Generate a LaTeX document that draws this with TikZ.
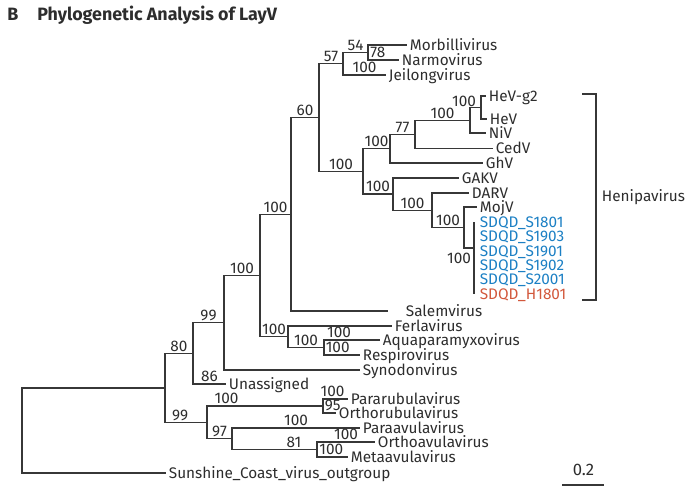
\documentclass[tikz,border=0pt]{standalone}
\usepackage{fontspec}
\setmainfont{Fira Sans}
\definecolor{treeink}{RGB}{55,55,55}
\definecolor{textink}{RGB}{45,45,45}
\definecolor{sdqdblue}{RGB}{28,128,196}
\definecolor{sdqdred}{RGB}{210,88,60}

\begin{document}
\begin{tikzpicture}[x=0.75pt, y=-0.75pt,
      branch/.style={draw=treeink, line width=1.1pt},
      leaf/.style={anchor=west, inner xsep=2pt, inner ysep=0pt, text height=7.9pt, text depth=0pt, font=\fontsize{11.5}{13}\selectfont, text=textink},
      sdqd/.style={leaf, inner xsep=4.2pt, text=sdqdblue},
      boot/.style={anchor=south, inner sep=1.1pt, text height=7.9pt, text depth=0pt, font=\fontsize{11.5}{13}\selectfont, text=textink},
      heading/.style={anchor=base west, inner sep=0pt, font=\bfseries\fontsize{13.4}{15}\selectfont, text=textink}
    ]
      \useasboundingbox (0,0) rectangle (692,495);

      % Title
      \node[heading] (panel) at (7,20.7) {B};
      \node[heading] (title) at (37,20.7) {Phylogenetic Analysis of LayV};

      % Taxa
      \node[leaf] (morbilli) at (407,45) {Morbillivirus};
      \node[leaf] (narmo) at (399,60) {Narmovirus};
      \node[leaf] (jeilong) at (386,75) {Jeilongvirus};
      \node[leaf] (hevgtwo) at (486,96) {HeV-g2};
      \node[leaf] (hev) at (487,119) {HeV};
      \node[leaf] (niv) at (486,133) {NiV};
      \node[leaf] (cedv) at (493,148.5) {CedV};
      \node[leaf] (ghv) at (483,163) {GhV};
      \node[leaf] (gakv) at (459,178) {GAKV};
      \node[leaf] (darv) at (469,193) {DARV};
      \node[leaf] (mojv) at (477,207) {MojV};
      \node[sdqd] (sdqdA) at (474,222) {SDQD\_S1801};
      \node[sdqd] (sdqdB) at (474,236.4) {SDQD\_S1903};
      \node[sdqd] (sdqdC) at (474,250.8) {SDQD\_S1901};
      \node[sdqd] (sdqdD) at (474,265.2) {SDQD\_S1902};
      \node[sdqd] (sdqdE) at (474,279.6) {SDQD\_S2001};
      \node[sdqd, text=sdqdred] (sdqdF) at (474,294) {SDQD\_H1801};
      \coordinate (salemEnd) at (388,311);
      \node[leaf] (salem) at (403,311) {Salemvirus};
      \node[leaf] (ferla) at (392,326) {Ferlavirus};
      \node[leaf] (aqua) at (380,340) {Aquaparamyxovirus};
      \node[leaf] (respiro) at (360,355) {Respirovirus};
      \node[leaf] (synodon) at (360,370) {Synodonvirus};
      \node[leaf] (unassigned) at (226,384) {Unassigned};
      \node[leaf] (pararub) at (348,399) {Pararubulavirus};
      \node[leaf] (orthorub) at (336,413) {Orthorubulavirus};
      \node[leaf] (paraavula) at (360,428) {Paraavulavirus};
      \node[leaf] (orthoavula) at (375,442) {Orthoavulavirus};
      \node[leaf] (metaavula) at (348,457) {Metaavulavirus};
      \node[leaf] (outgroup) at (166,473) {Sunshine\_Coast\_virus\_outgroup};

      % Internal nodes
      \coordinate (nRoot) at (22,430.5);
      \coordinate (nCore) at (165,387.9);
      \coordinate (nUpper) at (193,353.4);
      \coordinate (nMid) at (224,322.75);
      \coordinate (nDeep) at (260,275.5);
      \coordinate (nSalem) at (291,214.3);
      \coordinate (nHigh) at (319,117.6);
      \coordinate (nMorb) at (343,63.75);
      \coordinate (nNarm) at (368,52.5);
      \coordinate (nHeni) at (363,171.4);
      \coordinate (nGhv) at (390,148.7);
      \coordinate (nCed) at (415,134.4);
      \coordinate (nNiv) at (470,120.25);
      \coordinate (nHev) at (481,107.5);
      \coordinate (nGak) at (393,194.1);
      \coordinate (nDar) at (432,210.25);
      \coordinate (nMoj) at (464,227.5);
      \coordinate (nSdqd) at (474,248);
      \coordinate (nFerla) at (288,336.75);
      \coordinate (nAqua) at (324,347.5);
      \coordinate (nLower) at (207,422.4);
      \coordinate (nRubula) at (323,406);
      \coordinate (nAvula) at (232,438.75);
      \coordinate (nOrtho) at (317,449.5);

      % Backbone
      \draw[branch] (nRoot) |- (nCore);
      \draw[branch] (nRoot) |- (outgroup.west);
      \draw[branch] (nCore) |- (nUpper) node[boot, pos=0.75]{80};
      \draw[branch] (nCore) |- (nLower) node[boot, pos=0.68]{99};
      \draw[branch] (nUpper) |- (nMid) node[boot, pos=0.75]{99};
      \draw[branch] (nUpper) |- (unassigned.west) node[boot, pos=0.75]{86};
      \draw[branch] (nMid) |- (nDeep) node[boot, pos=0.75]{100};
      \draw[branch] (nMid) |- (synodon.west);
      \draw[branch] (nDeep) |- (nSalem) node[boot, pos=0.75]{100};
      \draw[branch] (nDeep) |- (nFerla) node[boot, pos=0.75]{100};
      \draw[branch] (nSalem) |- (nHigh) node[boot, pos=0.75]{60};
      \draw[branch] (nSalem) |- (salemEnd);

      % Morbilli / Narmo / Jeilong
      \draw[branch] (nHigh) |- (nMorb) node[boot, pos=0.75]{57};
      \draw[branch] (nMorb) |- (nNarm) node[boot, pos=0.75]{54};
      \draw[branch] (nMorb) |- (jeilong.west) node[boot, pos=0.75]{100};
      \draw[branch] (nNarm) |- (morbilli.west);
      \draw[branch] (nNarm) |- (narmo.west) node[boot, pos=0.66]{78};

      % Henipavirus
      \draw[branch] (nHigh) |- (nHeni) node[boot, pos=0.75]{100};
      \draw[branch] (nHeni) |- (nGhv) node[boot, pos=0.75]{100};
      \draw[branch] (nHeni) |- (nGak) node[boot, pos=0.75]{100};
      \draw[branch] (nGhv) |- (nCed) node[boot, pos=0.75]{77};
      \draw[branch] (nGhv) |- (ghv.west);
      \draw[branch] (nCed) |- (nNiv) node[boot, pos=0.75]{100};
      \draw[branch] (nCed) |- (cedv.west);
      \draw[branch] (nNiv) |- (nHev);
      \draw[branch] (nNiv) |- (niv.west);
      \draw[branch] (nHev) |- (hevgtwo.west);
      \draw[branch] (nHev) |- (hev.west);
      \node[boot, anchor=center] (bootHev) at (464,101.5) {100};
      \draw[branch] (nGak) |- (gakv.west);
      \draw[branch] (nGak) |- (nDar) node[boot, pos=0.75]{100};
      \draw[branch] (nDar) |- (darv.west);
      \draw[branch] (nDar) |- (nMoj) node[boot, pos=0.75]{100};
      \draw[branch] (nMoj) |- (mojv.west);
      \draw[branch] (nMoj) |- (nSdqd);
      \node[boot, anchor=center] (bootSdqd) at (459,258) {100};
      \draw[branch] (nSdqd) |- (sdqdA.west);
      \draw[branch] (nSdqd) |- (sdqdB.west);
      \draw[branch] (nSdqd) |- (sdqdC.west);
      \draw[branch] (nSdqd) |- (sdqdD.west);
      \draw[branch] (nSdqd) |- (sdqdE.west);
      \draw[branch] (nSdqd) |- (sdqdF.west);

      % Ferla / Aquaparamyxo / Respiro
      \draw[branch] (nFerla) |- (ferla.west);
      \draw[branch] (nFerla) |- (nAqua) node[boot, pos=0.75]{100};
      \draw[branch] (nAqua) |- (aqua.west) node[boot, pos=0.634]{100};
      \draw[branch] (nAqua) |- (respiro.west) node[boot, pos=0.69]{100};

      % Rubula / Avula
      \draw[branch] (nLower) |- (nRubula) node[boot, pos=0.584]{100};
      \draw[branch] (nLower) |- (nAvula) node[boot, pos=0.75]{97};
      \draw[branch] (nRubula) |- (pararub.west) node[boot, pos=0.69]{100};
      \draw[branch] (nRubula) |- (orthorub.west) node[boot, pos=0.87]{95};
      \draw[branch] (nAvula) |- (paraavula.west) node[boot, pos=0.75]{100};
      \draw[branch] (nAvula) |- (nOrtho) node[boot, pos=0.865]{81};
      \draw[branch] (nOrtho) |- (orthoavula.west) node[boot, pos=0.75]{100};
      \draw[branch] (nOrtho) |- (metaavula.west) node[boot, pos=0.73]{100};

      % Henipavirus bracket
      \coordinate (brTop) at (582,94);
      \coordinate (brBot) at (582,300);
      \draw[branch] (brTop) -- ++(14,0) |- (brBot);
      \node[leaf] (henipa) at (599,196) {Henipavirus};

      % Scale bar
      \coordinate (barL) at (562,485);
      \coordinate (barR) at (604,485);
      \draw[branch, line width=1.8pt] (barL) -- (barR);
      \node[boot, anchor=center, font=\fontsize{12.5}{14}\selectfont] (scale) at (583.5,470.5) {0.2};
    \end{tikzpicture}
\end{document}
